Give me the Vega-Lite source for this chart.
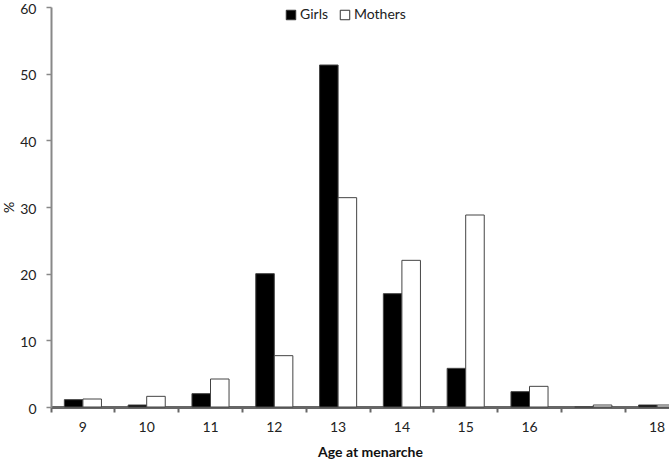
{
  "$schema": "https://vega.github.io/schema/vega-lite/v6.json",
  "autosize": {"type": "none"},
  "width": 618,
  "height": 400,
  "padding": {"left": 51, "top": 7, "right": 0, "bottom": 56},
  "background": "white",
  "config": {
    "view": {"stroke": null},
    "font": "Lato",
    "axis": {"labelFont": "Lato", "titleFont": "Lato", "labelColor": "#222", "titleColor": "#111"}
  },
  "data": {
    "values": [
      {"age": "9", "group": "Girls", "pct": 1.1},
      {"age": "9", "group": "Mothers", "pct": 1.2},
      {"age": "10", "group": "Girls", "pct": 0.3},
      {"age": "10", "group": "Mothers", "pct": 1.6},
      {"age": "11", "group": "Girls", "pct": 2.0},
      {"age": "11", "group": "Mothers", "pct": 4.2},
      {"age": "12", "group": "Girls", "pct": 20.0},
      {"age": "12", "group": "Mothers", "pct": 7.7},
      {"age": "13", "group": "Girls", "pct": 51.3},
      {"age": "13", "group": "Mothers", "pct": 31.4},
      {"age": "14", "group": "Girls", "pct": 17.0},
      {"age": "14", "group": "Mothers", "pct": 22.0},
      {"age": "15", "group": "Girls", "pct": 5.8},
      {"age": "15", "group": "Mothers", "pct": 28.8},
      {"age": "16", "group": "Girls", "pct": 2.3},
      {"age": "16", "group": "Mothers", "pct": 3.1},
      {"age": "17", "group": "Girls", "pct": 0},
      {"age": "17", "group": "Mothers", "pct": 0.3},
      {"age": "18", "group": "Girls", "pct": 0.3},
      {"age": "18", "group": "Mothers", "pct": 0.3}
    ]
  },
  "mark": {"type": "bar", "stroke": "#444", "strokeWidth": 1},
  "encoding": {
    "x": {
      "field": "age",
      "type": "ordinal",
      "sort": ["9", "10", "11", "12", "13", "14", "15", "16", "17", "18"],
      "scale": {"range": [0, 638], "paddingInner": 0, "paddingOuter": 0},
      "axis": {
        "title": "Age at menarche",
        "titleFontWeight": "bold",
        "titleFontSize": 14,
        "titlePadding": 11,
        "labelAngle": 0,
        "labelFontSize": 14,
        "labelPadding": 8,
        "labelExpr": "datum.label == '17' ? '' : datum.label",
        "bandPosition": 0,
        "tickSize": 5,
        "tickColor": "#666",
        "tickWidth": 2,
        "domainColor": "#666",
        "domainWidth": 3
      }
    },
    "xOffset": {
      "field": "group",
      "type": "nominal",
      "sort": ["Girls", "Mothers"],
      "scale": {"paddingInner": 0, "paddingOuter": 0.72}
    },
    "y": {
      "field": "pct",
      "type": "quantitative",
      "scale": {"domain": [0, 60], "nice": false},
      "axis": {
        "title": "%",
        "titleAngle": -90,
        "titleFontSize": 14,
        "titleFontWeight": "normal",
        "titleX": -35,
        "values": [0, 10, 20, 30, 40, 50, 60],
        "grid": false,
        "labelFontSize": 14,
        "labelPadding": 10,
        "labelOffset": 2,
        "tickSize": 5,
        "tickColor": "#888",
        "tickWidth": 1.5,
        "domainColor": "#888",
        "domainWidth": 2
      }
    },
    "fill": {
      "field": "group",
      "type": "nominal",
      "sort": ["Girls", "Mothers"],
      "scale": {"domain": ["Girls", "Mothers"], "range": ["#000000", "#ffffff"]},
      "legend": {
        "title": null,
        "orient": "none",
        "direction": "horizontal",
        "legendX": 233,
        "legendY": 1,
        "symbolType": "square",
        "symbolSize": 90,
        "symbolStrokeColor": "#333",
        "symbolStrokeWidth": 1,
        "labelFontSize": 14,
        "labelFont": "Lato",
        "labelColor": "#222",
        "labelOffset": 2,
        "columnPadding": 10
      }
    }
  }
}
